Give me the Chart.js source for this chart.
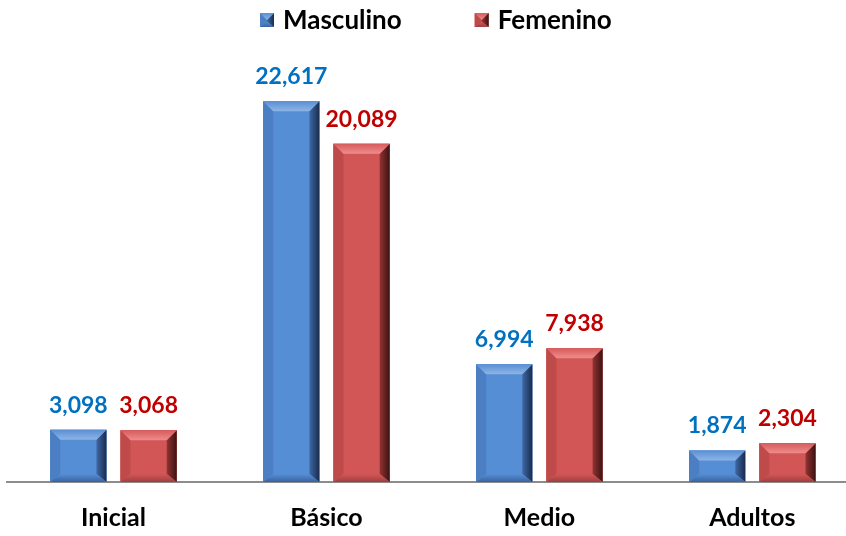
<!DOCTYPE html>
<html>
<head>
<meta charset="utf-8">
<script src="https://cdn.jsdelivr.net/npm/chart.js@4/dist/chart.umd.min.js"></script>
<style>
  html, body { margin: 0; padding: 0; background: #fff; }
  #wrap { width: 846px; height: 536px; }
</style>
</head>
<body>
<div id="wrap"><canvas id="chart"></canvas></div>
<script>
const categories = ['Inicial', 'Básico', 'Medio', 'Adultos'];
const seriesNames = ['Masculino', 'Femenino'];
const masculino = [3098, 22617, 6994, 1874];
const femenino = [3068, 20089, 7938, 2304];

const FONT = 'Lato, "Open Sans", sans-serif';

// face / bevel shades for each series
const PALETTE = [
    { face: '#558ED5', top: '#8DB5E5', topEdge: '#5A8FD4', left: '#4B7EC2', rightIn: '#3E68A6', rightOut: '#1A2C4D', bottom: '#3A639E', label: '#0070C0' },
    { face: '#D25656', top: '#F08C8C', topEdge: '#D65C5C', left: '#BE4A4A', rightIn: '#933333', rightOut: '#3C1212', bottom: '#A03E3E', label: '#C00000' }
];

function poly(ctx, pts, fill) {
    ctx.beginPath();
    ctx.moveTo(pts[0][0], pts[0][1]);
    for (let i = 1; i < pts.length; i++) ctx.lineTo(pts[i][0], pts[i][1]);
    ctx.closePath();
    ctx.fillStyle = fill;
    ctx.fill();
}

// draws the bevelled "button" look over a rectangle
function bevel(ctx, l, t, r, b, bv, c) {
    const h = b - t, w = r - l;
    const bt = Math.min(bv, h / 2, w / 2);
    const bb = Math.min(bv * 0.8, h / 2, w / 2);
    const bs = Math.min(bv, w / 2);
    ctx.save();
    poly(ctx, [[l, t], [r, t], [r, b], [l, b]], c.face);
    // left
    poly(ctx, [[l, t], [l + bs, t + bt], [l + bs, b - bb], [l, b]], c.left);
    // right
    let g = ctx.createLinearGradient(r - bs, 0, r, 0);
    g.addColorStop(0, c.rightIn);
    g.addColorStop(1, c.rightOut);
    poly(ctx, [[r, t], [r, b], [r - bs, b - bb], [r - bs, t + bt]], g);
    // top
    g = ctx.createLinearGradient(0, t, 0, t + bt);
    g.addColorStop(0, c.topEdge);
    g.addColorStop(1, c.top);
    poly(ctx, [[l, t], [r, t], [r - bs, t + bt], [l + bs, t + bt]], g);
    // bottom
    g = ctx.createLinearGradient(0, b - bb, 0, b);
    g.addColorStop(0, c.face);
    g.addColorStop(1, c.bottom);
    poly(ctx, [[l, b], [l + bs, b - bb], [r - bs, b - bb], [r, b]], g);
    ctx.restore();
}

const bevelPlugin = {
    id: 'bevelBars',
    afterDatasetsDraw(chart) {
        const ctx = chart.ctx;
        chart.data.datasets.forEach((ds, di) => {
            const meta = chart.getDatasetMeta(di);
            meta.data.forEach((bar) => {
                const p = bar.getProps(['x', 'y', 'width', 'base'], true);
                bevel(ctx, p.x - p.width / 2, p.y, p.x + p.width / 2, p.base, 10, PALETTE[di]);
            });
        });
        // value labels
        ctx.save();
        ctx.font = 'bold 23px ' + FONT;
        ctx.textAlign = 'center';
        ctx.textBaseline = 'alphabetic';
        chart.data.datasets.forEach((ds, di) => {
            const meta = chart.getDatasetMeta(di);
            meta.data.forEach((bar, i) => {
                ctx.fillStyle = PALETTE[di].label;
                ctx.fillText(ds.data[i].y.toLocaleString('en-US'), bar.x, bar.y - 17);
            });
        });
        ctx.restore();
    },
    afterDraw(chart) {
        // legend
        const ctx = chart.ctx;
        ctx.save();
        ctx.font = 'bold 26px ' + FONT;
        ctx.textBaseline = 'alphabetic';
        ctx.textAlign = 'left';
        let x = 260;
        seriesNames.forEach((name, i) => {
            bevel(ctx, x, 13, x + 14, 27, 7, PALETTE[i]);
            ctx.fillStyle = '#000';
            ctx.fillText(name, x + 23, 29);
            x += 23 + ctx.measureText(name).width + 73;
        });
        ctx.restore();
    }
};

new Chart(document.getElementById('chart'), {
    type: 'bar',
    data: {
        datasets: [
            { label: seriesNames[0], data: masculino.map((v, i) => ({ x: i, y: v })), backgroundColor: PALETTE[0].face },
            { label: seriesNames[1], data: femenino.map((v, i) => ({ x: i, y: v })), backgroundColor: PALETTE[1].face }
        ]
    },
    options: {
        responsive: true,
        maintainAspectRatio: false,
        animation: false,
        categoryPercentage: 0.66,
        barPercentage: 0.8,
        layout: { padding: { top: 61, left: 7, right: 0, bottom: 0 } },
        plugins: { legend: { display: false }, tooltip: { enabled: false } },
        scales: {
            x: {
                type: 'linear',
                offset: false,
                bounds: 'data',
                min: -0.5,
                max: 3.44,
                afterBuildTicks(scale) { scale.ticks = categories.map((c, i) => ({ value: i })); },
                afterFit(scale) { scale.height = 54; },
                grid: { display: false },
                border: { display: true, color: '#8C8C8C', width: 2 },
                ticks: {
                    callback: (v) => categories[v],
                    color: '#000',
                    padding: 13,
                    autoSkip: false,
                    maxRotation: 0,
                    font: { family: FONT, size: 25, weight: 'bold' }
                }
            },
            y: {
                display: false,
                min: 0,
                max: 25000
            }
        }
    },
    plugins: [bevelPlugin]
});
</script>
</body>
</html>
